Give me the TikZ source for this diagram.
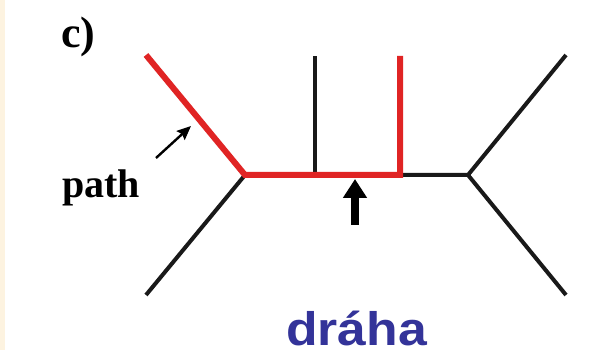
\documentclass[tikz,border=0pt]{standalone}
\usepackage{fontspec}
\setmainfont{Liberation Serif}
\newfontfamily\arialbold{Liberation Sans}[BoldFont={* Bold}]
\usetikzlibrary{arrows.meta}
\definecolor{pathred}{HTML}{E02424}
\definecolor{drahablue}{HTML}{333399}
\definecolor{cream}{HTML}{FDF3E0}
\tikzset{
  edgeblack/.style={line width=4pt, draw=black!90, line cap=butt},
  edgered/.style={line width=6pt, draw=pathred, line join=miter, line cap=butt},
  lbl/.style={inner sep=0pt, font=\bfseries},
}
\begin{document}
\begin{tikzpicture}[x=1pt,y=-1pt]
\useasboundingbox (0,0) rectangle (595,350);
\fill[white] (0,0) rectangle (595,350);
\fill[cream] (0,0) rectangle (5,350);
% coordinates
\coordinate (j1) at (245,175);
\coordinate (j2) at (468,175);
\coordinate (m) at (315,175);
\coordinate (r) at (400,175);
\coordinate (ul) at (146,55);
\coordinate (ll) at (146,295);
\coordinate (mt) at (315,56);
\coordinate (rt) at (400,56);
\coordinate (ur) at (566,55);
\coordinate (lr) at (566,295);
% black edges
\draw[edgeblack] (j1) -- (ll);
\draw[edgeblack] (m) -- (mt);
\draw[edgeblack, line join=miter] (r) -- (j2) -- (ur);
\draw[edgeblack] (j2) -- (lr);
% red path
\draw[edgered] (ul) -- (j1) -- (r) -- (rt);
% arrows
\coordinate (sa1) at (156,158);
\coordinate (sa2) at (191,126);
\draw[line width=2.4pt, -{Stealth[length=14pt,width=12pt,inset=2pt]}] (sa1) -- (sa2);
\coordinate (ba1) at (355,225);
\coordinate (ba2) at (355,179);
\draw[line width=8.5pt, -{Triangle[length=19pt,width=23pt]}] (ba1) -- (ba2);
% labels
\node[lbl, anchor=base west, font=\fontsize{44}{44}\selectfont\bfseries] (c) at (61,48) {c)};
\node[lbl, anchor=base west, font=\fontsize{40}{40}\selectfont\bfseries] (p) at (62,197) {path};
\node[lbl, anchor=base west, text=drahablue, font=\fontsize{47}{47}\selectfont\arialbold\bfseries] (d) at (286,345) {\scalebox{1.1}[1]{dráha}};
\end{tikzpicture}
\end{document}
